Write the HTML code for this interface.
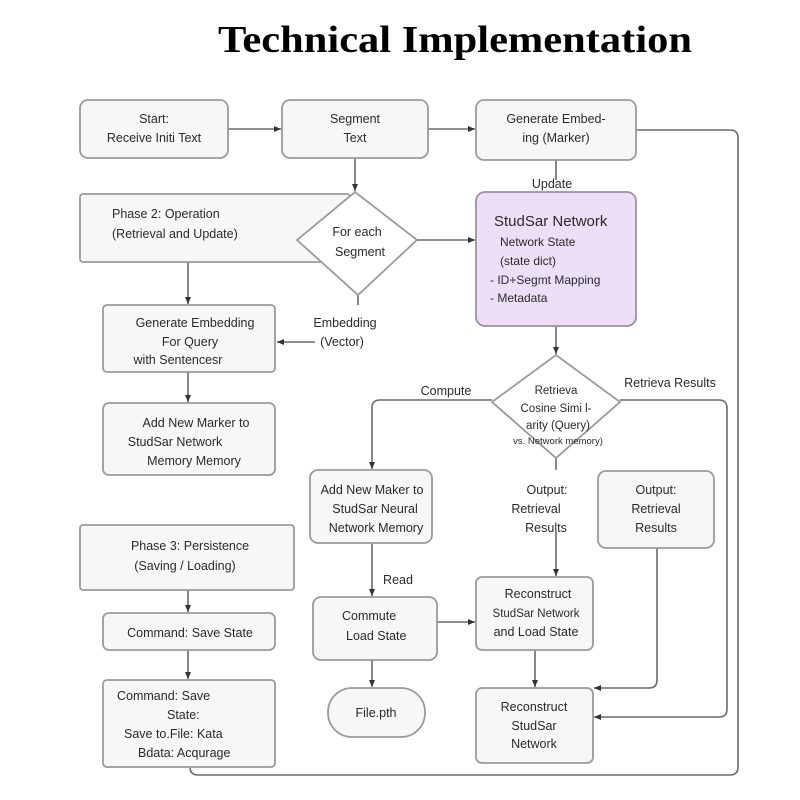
<!DOCTYPE html>
<html><head><meta charset="utf-8"><style>
html,body{margin:0;padding:0;background:#fff;}
svg{display:block;}
text{font-family:"Liberation Sans",sans-serif;font-size:12.5px;fill:#2a2a2a;}
.b{fill:#f7f7f7;stroke:#9a9a9a;stroke-width:1.8;}
.l{fill:none;stroke:#6a6a6a;stroke-width:1.6;}
</style></head><body>
<svg width="800" height="800" viewBox="0 0 800 800" xmlns="http://www.w3.org/2000/svg">
<defs><marker id="a" markerWidth="8" markerHeight="8" refX="7" refY="4" orient="auto" markerUnits="userSpaceOnUse"><path d="M0,1 L7,4 L0,7z" fill="#333"/></marker></defs>
<text x="455" y="52" text-anchor="middle" style="font-family:'Liberation Serif',serif;font-weight:bold;font-size:38px;fill:#000" textLength="474" lengthAdjust="spacingAndGlyphs">Technical Implementation</text>

<!-- connectors -->
<g class="l" marker-end="url(#a)">
<path d="M228,129 H281"/>
<path d="M428,129 H475"/>
<path d="M355,158 V191"/>
<path d="M417,240 H475"/>
<path d="M188,262 V304"/>
<path d="M358,295 V305 M315,342 H277"/>
<path d="M188,372 V402"/>
<path d="M556,327 V354"/>
<path d="M492,400 H380 Q372,400 372,408 V469"/>
<path d="M556,458 V470 M556,532 V576"/>
<path d="M188,590 V612"/>
<path d="M188,650 V679"/>
<path d="M372,543 V596"/>
<path d="M437,622 H475"/>
<path d="M372,660 V687"/>
<path d="M535,650 V687"/>
<path d="M657,548 V680 Q657,688 649,688 H594"/>
<path d="M620,400 H719 Q727,400 727,408 V709 Q727,717 719,717 H594"/>
</g>
<path class="l" d="M636,130 H730 Q738,130 738,138 V767 Q738,775 730,775 H198 Q190,775 190,767"/>
<path class="l" d="M556,160 V180"/>

<!-- boxes -->
<rect class="b" x="80" y="100" width="148" height="58" rx="8"/>
<text x="154" y="123" text-anchor="middle">Start:</text>
<text x="154" y="142" text-anchor="middle">Receive Initi Text</text>

<rect class="b" x="282" y="100" width="146" height="58" rx="8"/>
<text x="355" y="123" text-anchor="middle">Segment</text>
<text x="355" y="142" text-anchor="middle">Text</text>

<rect class="b" x="476" y="100" width="160" height="60" rx="8"/>
<text x="556" y="123" text-anchor="middle">Generate Embed-</text>
<text x="556" y="142" text-anchor="middle">ing (Marker)</text>
<text x="552" y="188" text-anchor="middle">Update</text>

<rect class="b" x="80" y="194" width="270" height="68" rx="3"/>
<text x="112" y="218">Phase 2: Operation</text>
<text x="112" y="238">(Retrieval and Update)</text>
<polygon points="355,192 417,240 358,295 297,240" fill="#fff" stroke="#9a9a9a" stroke-width="1.8"/>
<text x="357" y="236" text-anchor="middle">For each</text>
<text x="360" y="256" text-anchor="middle">Segment</text>

<rect x="476" y="192" width="160" height="134" rx="9" fill="#ecdff7" stroke="#9a92a2" stroke-width="1.8"/>
<text x="494" y="226" style="font-size:15px">StudSar Network</text>
<text x="500" y="246" style="font-size:12px">Network State</text>
<text x="500" y="265" style="font-size:12px">(state dict)</text>
<text x="490" y="284" style="font-size:12px">- ID+Segmt Mapping</text>
<text x="490" y="302" style="font-size:12px">- Metadata</text>

<text x="345" y="327" text-anchor="middle">Embedding</text>
<text x="342" y="346" text-anchor="middle">(Vector)</text>

<rect class="b" x="103" y="305" width="172" height="67" rx="4"/>
<text x="195" y="327" text-anchor="middle">Generate Embedding</text>
<text x="190" y="346" text-anchor="middle">For Query</text>
<text x="178" y="364" text-anchor="middle">with Sentencesr</text>

<rect class="b" x="103" y="403" width="172" height="72" rx="6"/>
<text x="196" y="427" text-anchor="middle">Add New Marker to</text>
<text x="175" y="446" text-anchor="middle">StudSar Network</text>
<text x="194" y="465" text-anchor="middle">Memory  Memory</text>

<polygon points="556,355 620,402 556,458 492,402" fill="#fff" stroke="#9a9a9a" stroke-width="1.8"/>
<text x="556" y="394" text-anchor="middle" style="font-size:11.5px">Retrieva</text>
<text x="556" y="412" text-anchor="middle" style="font-size:11.5px">Cosine Simi l-</text>
<text x="558" y="429" text-anchor="middle" style="font-size:11.5px">arity (Query)</text>
<text x="558" y="444" text-anchor="middle" style="font-size:9.5px">vs. Network memory)</text>
<text x="446" y="395" text-anchor="middle">Compute</text>
<text x="670" y="387" text-anchor="middle">Retrieva Results</text>

<rect class="b" x="310" y="470" width="122" height="73" rx="8"/>
<text x="372" y="494" text-anchor="middle">Add New Maker to</text>
<text x="375" y="513" text-anchor="middle">StudSar Neural</text>
<text x="376" y="532" text-anchor="middle">Network Memory</text>

<text x="547" y="494" text-anchor="middle">Output:</text>
<text x="536" y="513" text-anchor="middle">Retrieval</text>
<text x="546" y="532" text-anchor="middle">Results</text>

<rect class="b" x="598" y="471" width="116" height="77" rx="8"/>
<text x="656" y="494" text-anchor="middle">Output:</text>
<text x="656" y="513" text-anchor="middle">Retrieval</text>
<text x="656" y="532" text-anchor="middle">Results</text>

<rect class="b" x="80" y="525" width="214" height="65" rx="3"/>
<text x="190" y="550" text-anchor="middle">Phase 3: Persistence</text>
<text x="185" y="570" text-anchor="middle">(Saving / Loading)</text>

<rect class="b" x="103" y="613" width="172" height="37" rx="6"/>
<text x="190" y="637" text-anchor="middle">Command: Save State</text>

<rect class="b" x="103" y="680" width="172" height="87" rx="4"/>
<text x="117" y="700">Command: Save</text>
<text x="167" y="719">State:</text>
<text x="124" y="738">Save to.File: Kata</text>
<text x="138" y="757">Bdata: Acqurage</text>

<text x="398" y="584" text-anchor="middle">Read</text>
<rect class="b" x="313" y="597" width="124" height="63" rx="8"/>
<text x="342" y="620">Commute</text>
<text x="346" y="640">Load State</text>

<rect class="b" x="476" y="577" width="117" height="73" rx="6"/>
<text x="538" y="598" text-anchor="middle">Reconstruct</text>
<text x="536" y="617" text-anchor="middle" style="font-size:11.5px">StudSar Network</text>
<text x="536" y="636" text-anchor="middle">and Load State</text>

<rect class="b" x="328" y="688" width="97" height="49" rx="24"/>
<text x="376" y="717" text-anchor="middle">File.pth</text>

<rect class="b" x="476" y="688" width="117" height="75" rx="6"/>
<text x="534" y="711" text-anchor="middle">Reconstruct</text>
<text x="534" y="730" text-anchor="middle">StudSar</text>
<text x="534" y="748" text-anchor="middle">Network</text>
</svg>
</body></html>
